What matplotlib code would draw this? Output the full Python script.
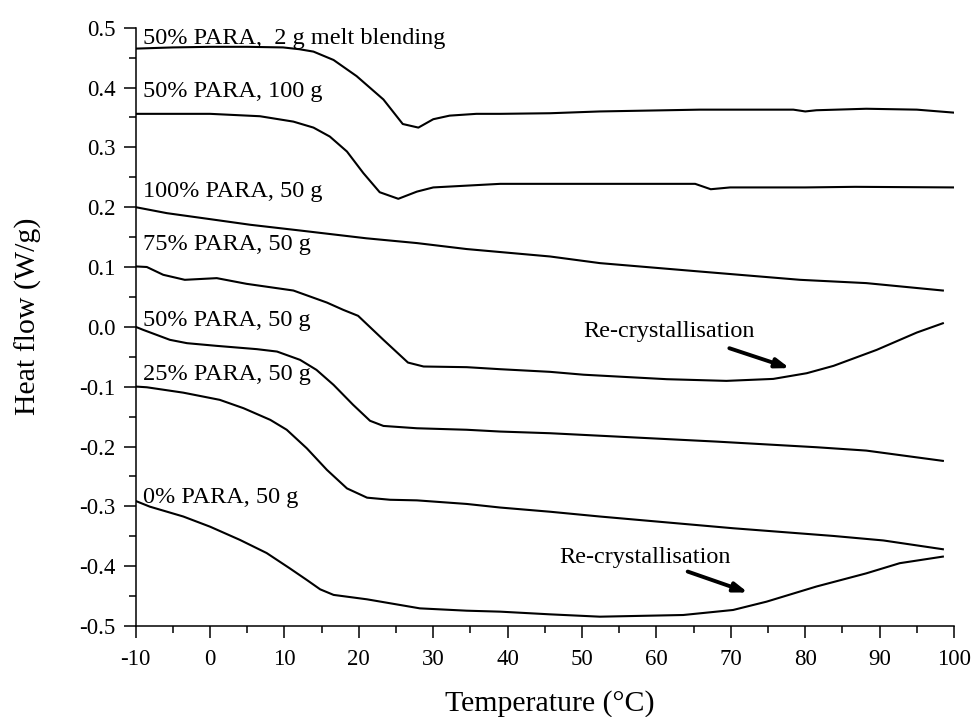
import matplotlib
matplotlib.use("Agg")
import matplotlib.pyplot as plt
from matplotlib.ticker import MultipleLocator, FormatStrFormatter, FuncFormatter

plt.rcParams['font.family'] = ['Liberation Serif', 'DejaVu Serif']

# DSC traces: temperature (°C) and heat flow (W/g)
t_melt = [-10, -5, 0, 5, 9.8, 12, 13.9, 16.6, 19.7, 23.3, 25.9, 28, 30, 32.2, 35.8,
          39, 45.7, 52.4, 65.8, 78.4, 80, 81.5, 88.2, 95, 100]
hf_melt = [0.465, 0.467, 0.468, 0.468, 0.467, 0.464, 0.460, 0.446, 0.419, 0.380, 0.339,
           0.333, 0.347, 0.353, 0.356, 0.356, 0.357, 0.360, 0.363, 0.363, 0.360, 0.362,
           0.3645, 0.363, 0.358]

t_50_100g = [-10, 0, 6.7, 11.2, 13.9, 16.1, 18.4, 20.6, 22.8, 25.3, 27.8, 30, 34.5, 39,
             50, 65.2, 67.3, 69.9, 80, 86.7, 100]
hf_50_100g = [0.356, 0.356, 0.352, 0.343, 0.333, 0.318, 0.293, 0.257, 0.225, 0.214, 0.226,
              0.233, 0.236, 0.239, 0.239, 0.239, 0.230, 0.233, 0.233, 0.234, 0.233]

t_100 = [-10, -5.8, 0, 5.4, 12.1, 21, 27.8, 34.5, 45.7, 52.4, 65.8, 79.3, 88.2, 98.5]
hf_100 = [0.200, 0.190, 0.180, 0.1706, 0.161, 0.148, 0.140, 0.130, 0.1176, 0.1065,
          0.0925, 0.0786, 0.0731, 0.0607]

t_75 = [-10, -8.5, -6.3, -3.4, 0.9, 4.9, 11.2, 15.7, 17.9, 19.9, 23.3, 26.6, 28.7, 34.5,
        39, 45.7, 50.2, 61.4, 69.4, 75.7, 80.2, 83.8, 89.6, 95, 98.5]
hf_75 = [0.101, 0.100, 0.087, 0.0786, 0.0814, 0.0719, 0.0607, 0.0406, 0.0284, 0.0184,
         -0.0217, -0.0597, -0.0663, -0.0674, -0.0708, -0.0752, -0.080, -0.0875, -0.0903,
         -0.087, -0.0775, -0.0652, -0.0385, -0.0095, 0.006]

t_50 = [-10, -9, -5.4, -3.1, 0.9, 6.3, 9, 12.1, 14.3, 16.6, 19.2, 21.5, 23.3, 27.8, 34.5,
        39, 45.7, 50.2, 68.1, 81.5, 88.2, 98.5]
hf_50 = [0.0, -0.005, -0.0217, -0.0273, -0.0318, -0.0373, -0.0413, -0.0552, -0.0719,
         -0.097, -0.130, -0.157, -0.1656, -0.1695, -0.172, -0.175, -0.1778, -0.1806,
         -0.1918, -0.2012, -0.2068, -0.224]

t_25 = [-10, -8.5, -3.6, 1.3, 4.5, 8.1, 10.3, 13, 15.7, 18.4, 21.1, 24.2, 27.8, 34.5, 39,
        45.7, 52.4, 70.3, 83.8, 90.5, 98.5]
hf_25 = [-0.0998, -0.101, -0.110, -0.122, -0.136, -0.1555, -0.172, -0.203, -0.239, -0.270,
         -0.2855, -0.289, -0.290, -0.296, -0.302, -0.309, -0.317, -0.3366, -0.3495,
         -0.357, -0.3717]

t_0 = [-10, -8.1, -3.6, 0, 4, 7.6, 10.7, 13, 14.8, 16.6, 21.1, 28.2, 34.5, 39, 45.7, 52.4,
       63.6, 70.3, 74.8, 81.5, 88.2, 92.7, 98.5]
hf_0 = [-0.291, -0.3005, -0.317, -0.334, -0.356, -0.378, -0.4035, -0.423, -0.4387, -0.448,
        -0.4554, -0.4705, -0.4744, -0.476, -0.4805, -0.4844, -0.4816, -0.4732, -0.4593,
        -0.434, -0.412, -0.395, -0.384]

curves = [(t_melt, hf_melt), (t_50_100g, hf_50_100g), (t_100, hf_100), (t_75, hf_75),
          (t_50, hf_50), (t_25, hf_25), (t_0, hf_0)]

# curve labels and where they sit (x, baseline y)
labels = ["50% PARA,  2 g melt blending", "50% PARA, 100 g", "100% PARA, 50 g",
          "75% PARA, 50 g", "50% PARA, 50 g", "25% PARA, 50 g", "0% PARA, 50 g"]
label_y = [0.473, 0.384, 0.217, 0.128, 0.0017, -0.0886, -0.295]

fig = plt.figure(figsize=(9.74, 7.17), dpi=100)
ax = fig.add_axes([0.1393, 0.1269, 0.8402, 0.8345])

for t, hf in curves:
    ax.plot(t, hf, color='black', lw=1.5)

for lab, y in zip(labels, label_y):
    ax.text(-9, y, lab, fontsize=17.5, ha='left', va='baseline')

# re-crystallisation annotations
arrow = dict(arrowstyle='-|>,head_length=0.8,head_width=0.28',
             lw=2.8, color='black', shrinkA=0, shrinkB=0)
ax.text(50.2, -0.0162, "Re-crystallisation", fontsize=17.5, ha='left', va='baseline')
ax.annotate("", xy=(77.9, -0.069), xytext=(69.8, -0.0357), arrowprops=arrow)
ax.text(46.9, -0.395, "Re-crystallisation", fontsize=17.5, ha='left', va='baseline')
ax.annotate("", xy=(72.3, -0.444), xytext=(64.2, -0.409), arrowprops=arrow)

ax.set_xlim(-10, 100)
ax.set_ylim(-0.5, 0.5)
ax.xaxis.set_major_locator(MultipleLocator(10))
ax.xaxis.set_minor_locator(MultipleLocator(5))
ax.yaxis.set_major_locator(MultipleLocator(0.1))
ax.yaxis.set_minor_locator(MultipleLocator(0.05))
ax.yaxis.set_major_formatter(FormatStrFormatter('%.1f'))
ax.xaxis.set_major_formatter(FuncFormatter(lambda v, p: '%d' % v))

ax.spines['top'].set_visible(False)
ax.spines['right'].set_visible(False)
for s in ('left', 'bottom'):
    ax.spines[s].set_linewidth(1.1)
ax.tick_params(which='major', direction='out', length=8.5, width=1.1, labelsize=16.5)
ax.tick_params(axis='x', which='major', pad=8)
ax.tick_params(axis='y', which='major', pad=6)
ax.tick_params(which='minor', direction='out', length=5, width=1.1)

ax.set_xlabel("Temperature (°C)", fontsize=21.5)
ax.set_ylabel("Heat flow (W/g)", fontsize=21.5)
ax.xaxis.set_label_coords(0.506, -0.107)
ax.yaxis.set_label_coords(-0.1145, 0.517)

fig.savefig("out.png", dpi=100)
